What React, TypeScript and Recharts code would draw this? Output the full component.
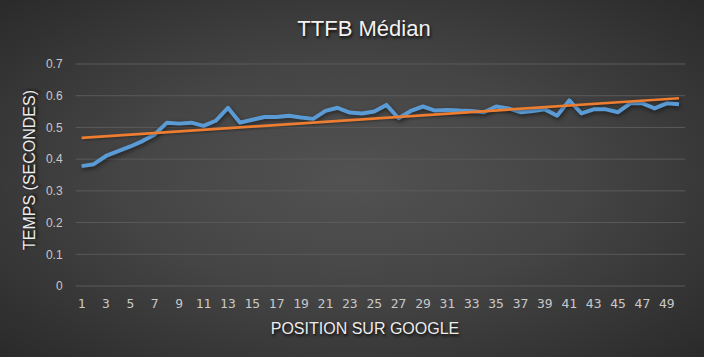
import { LineChart, Line, XAxis, YAxis, CartesianGrid } from 'recharts';

const positions = Array.from({ length: 50 }, (_, i) => String(i + 1));

const ttfbMedian = [
  0.378, 0.384, 0.41, 0.425, 0.44, 0.457, 0.478, 0.515, 0.512, 0.515,
  0.505, 0.521, 0.562, 0.515, 0.524, 0.533, 0.533, 0.537, 0.531, 0.527,
  0.552, 0.562, 0.547, 0.544, 0.55, 0.571, 0.529, 0.552, 0.566, 0.553,
  0.555, 0.553, 0.552, 0.548, 0.566, 0.56, 0.548, 0.552, 0.557, 0.537,
  0.585, 0.544, 0.557, 0.557, 0.548, 0.576, 0.576, 0.56, 0.576, 0.573,
];

// linear trend line, read at both ends
const trendStart = 0.467;
const trendEnd = 0.592;

const yTicks = [0, 0.1, 0.2, 0.3, 0.4, 0.5, 0.6, 0.7];

const data = positions.map((p, i) => ({
  position: p,
  ttfb: ttfbMedian[i],
  trend: i === 0 ? trendStart : i === positions.length - 1 ? trendEnd : null,
}));

const titleShadow = '1px 2px 3px rgba(0,0,0,0.85)';

export default function App() {
  return (
    <div
      style={{
        position: 'absolute',
        left: 0,
        top: 0,
        width: 704,
        height: 357,
        overflow: 'hidden',
        background: 'radial-gradient(ellipse at 50% 50%, #525252 0%, #454545 45%, #2a2a2a 100%)',
        fontFamily: '"Liberation Sans", Arial, sans-serif',
      }}
    >
      <div
        style={{
          position: 'absolute',
          left: 0,
          width: 704,
          top: 16,
          textAlign: 'center',
          fontSize: 22,
          color: '#f2f2f2',
          textShadow: titleShadow,
          paddingLeft: 24,
          boxSizing: 'border-box',
        }}
      >
        TTFB Médian
      </div>
      <div
        style={{
          position: 'absolute',
          left: 0,
          width: 704,
          top: 320,
          textAlign: 'center',
          fontSize: 16,
          color: '#ececec',
          textShadow: titleShadow,
          paddingLeft: 26,
          boxSizing: 'border-box',
        }}
      >
        POSITION SUR GOOGLE
      </div>
      <div
        style={{
          position: 'absolute',
          left: 30,
          top: 170,
          fontSize: 16,
          color: '#ececec',
          whiteSpace: 'nowrap',
          textShadow: titleShadow,
          transform: 'translate(-50%, -50%) rotate(-90deg)',
        }}
      >
        TEMPS (SECONDES)
      </div>
      <LineChart
        width={704}
        height={357}
        data={data}
        margin={{ top: 64, right: 19, bottom: 41, left: 0 }}
        style={{ position: 'absolute', left: 0, top: 0 }}
      >
        <CartesianGrid vertical={false} stroke="#5a5a5a" strokeWidth={1} />
        <XAxis
          dataKey="position"
          interval={1}
          height={30}
          padding={{ left: 6, right: 6 }}
          axisLine={false}
          tickLine={false}
          tickSize={0}
          tickMargin={13}
          tick={{ fill: '#c8c8c8', fontSize: 13, fontFamily: '"DejaVu Sans Mono", monospace' }}
        />
        <YAxis
          width={75.6}
          domain={[0, 0.7]}
          ticks={yTicks}
          axisLine={false}
          tickLine={false}
          tickSize={0}
          tickMargin={13}
          tick={{ fill: '#c8c8c8', fontSize: 12, fontFamily: '"Liberation Sans", Arial, sans-serif' }}
        />
        <Line
          type="linear"
          dataKey="ttfb"
          stroke="#5b9bd5"
          strokeWidth={4}
          dot={false}
          activeDot={false}
          strokeLinejoin="round"
          style={{ filter: 'drop-shadow(1px 2px 2px rgba(0,0,0,0.5))' }}
          isAnimationActive={false}
        />
        <Line
          type="linear"
          dataKey="trend"
          stroke="#ed7d31"
          strokeWidth={2.75}
          dot={false}
          activeDot={false}
          connectNulls
          style={{ filter: 'drop-shadow(1px 1px 1px rgba(0,0,0,0.35))' }}
          isAnimationActive={false}
        />
      </LineChart>
    </div>
  );
}
